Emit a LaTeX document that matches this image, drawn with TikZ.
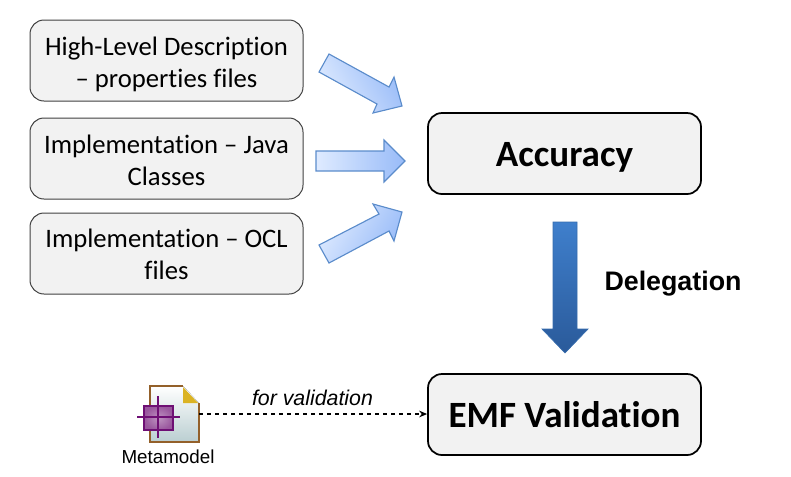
\documentclass[tikz,border=0pt]{standalone}
\usepackage{fontspec}
\setmainfont{Carlito}[Ligatures=TeX,RawFeature={-liga;-clig}]
\newfontfamily\arialf{Liberation Sans}
\usetikzlibrary{arrows.meta,calc}
\definecolor{boxfill}{HTML}{F2F2F2}
\definecolor{arrowline}{HTML}{5B8CCB}
\definecolor{arrowlight}{HTML}{DFEBFF}
\definecolor{arrowdark}{HTML}{98BBF8}
\definecolor{downtop}{HTML}{3F7FCC}
\definecolor{downbot}{HTML}{2A5A9A}
\definecolor{docline}{HTML}{93602A}
\definecolor{purp}{HTML}{6E0F74}
\tikzset{
  x=0.75pt,y=-0.75pt,
  srcbox/.style={draw=black!75,line width=0.75pt,fill=boxfill,rounded corners=10.5pt,minimum width=204.75pt,minimum height=60.75pt,align=center,inner sep=0pt,font=\fontsize{20pt}{24pt}\selectfont},
  bigbox/.style={draw=black,line width=1.3pt,fill=boxfill,rounded corners=10.5pt,minimum width=204.75pt,minimum height=60.75pt,align=center,inner sep=0pt,font=\fontsize{27.8pt}{32pt}\selectfont\bfseries},
  blockarrow/.style={draw=arrowline,line width=0.85pt,left color=arrowlight,right color=arrowdark},
}
\begin{document}
\begin{tikzpicture}
\useasboundingbox (0,0) rectangle (791,476);
\node[srcbox] (hl) at (166.5,60.5) {\raisebox{-8.75pt}[0pt][0pt]{\begin{tabular}{@{}c@{}}High-Level Description\\– properties files\end{tabular}}};
\node[srcbox] (java) at (166.5,158.5) {\raisebox{-8.4pt}[0pt][0pt]{\begin{tabular}{@{}c@{}}Implementation – Java\\Classes\end{tabular}}};
\node[srcbox] (ocl) at (166.5,253.5) {\raisebox{-8.2pt}[0pt][0pt]{\begin{tabular}{@{}c@{}}Implementation – OCL\\files\end{tabular}}};
\node[bigbox] (acc) at (564.5,153.5) {\raisebox{-10pt}[0pt][0pt]{Accuracy}};
\node[bigbox] (emf) at (564.5,414.5) {EMF Validation};
% block arrows
\draw[blockarrow,shading angle=120] (329,54) -- (389,87) -- (394,77) -- (402,106) -- (373,113) -- (377,104) -- (319,72) -- cycle;
\draw[blockarrow] (316,151) -- (384,151) -- (384,140) -- (405,161) -- (384,182) -- (384,171) -- (316,171) -- cycle;
\draw[blockarrow,shading angle=60] (319,245) -- (379,214) -- (373,204) -- (402,212) -- (394,241) -- (389,231) -- (329,263) -- cycle;
\draw[draw=downtop!85!black,line width=0.5pt,top color=downtop,bottom color=downbot] (553,222) -- (577,222) -- (577,329) -- (588,329) -- (565,353) -- (542,329) -- (553,329) -- cycle;
\node[font=\arialf\bfseries\fontsize{20.1pt}{24pt}\selectfont,inner sep=0pt] (deleg) at (673,283.5) {Delegation};
% metamodel icon
\fill[top color=white,bottom color=blue!12!cyan!20!gray!45] (150,386) -- (183,386) -- (199,403) -- (199,442) -- (150,442) -- cycle;
\draw[docline,line width=1.3pt] (183,386) -- (150,386) -- (150,442) -- (199,442) -- (199,403);
\fill[yellow!60!orange!85!black] (183,387) -- (198,403) -- (183,403) -- cycle;
\draw[purp,line width=1.6pt,inner color=purp!45,outer color=purp!70] (144,406) rectangle (173,430);
\draw[purp,line width=2.2pt] (158,396) -- (158,438) (137,417) -- (180,417);
\node[font=\arialf\fontsize{14.1pt}{16pt}\selectfont,inner sep=0pt] (meta) at (168,456.5) {Metamodel};
\coordinate (iconedge) at (199,414);
\draw[dashed,line width=1.05pt,-{Stealth[length=6pt,width=5pt]}] (iconedge) -- (emf.west |- iconedge);
\node[font=\arialf\itshape\fontsize{16pt}{18pt}\selectfont,inner sep=0pt] (forv) at (312.5,398) {for validation};
\end{tikzpicture}
\end{document}
